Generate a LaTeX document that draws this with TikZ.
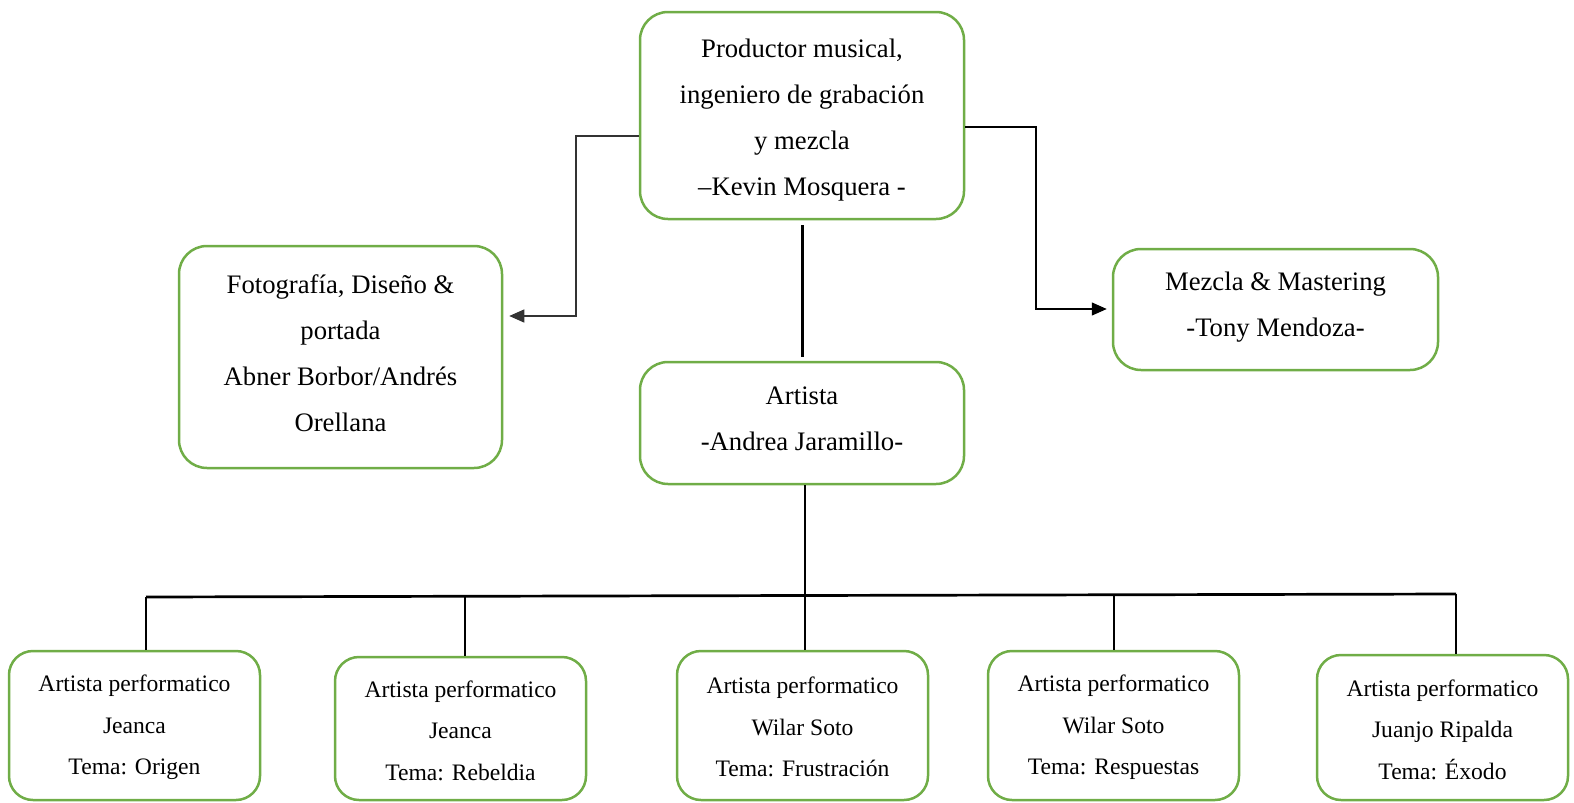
\documentclass[tikz,border=0pt]{standalone}
\usepackage{fontspec}
\setmainfont{Liberation Serif}
\usetikzlibrary{arrows.meta}
\definecolor{verdecaja}{RGB}{112,173,71}
\newcommand{\subir}[1]{\rule[-#1]{0pt}{0pt}}
\newcommand{\bajar}[1]{\rule{0pt}{#1}}
\tikzset{
	caja/.style={draw=verdecaja, line width=2.5pt, rounded corners=28pt, align=center, inner sep=0pt},
	cajagrande/.style={caja, font=\fontsize{26.7}{46}\selectfont},
	cajachica/.style={caja, rounded corners=24pt, minimum width=251pt, font=\fontsize{23.6}{41.5}\selectfont},
	linea/.style={line width=1.3pt},
	flecha/.style={linea, -{Triangle[length=15pt,width=13pt]}}
}

\begin{document}
\begin{tikzpicture}[x=1pt, y=-1pt]
			%%%%% START %%%%%
			\useasboundingbox (0, 0) rectangle (1574, 803);
			
			\node[cajagrande, minimum width=324pt, minimum height=207pt] (prod) at (802, 115.5) {\bajar{27pt}Productor musical,\\ingeniero de grabación\\y mezcla\\–Kevin Mosquera -};
			\node[cajagrande, minimum width=323pt, minimum height=222pt] (foto) at (340.5, 357) {Fotografía, Diseño \&\\portada\\Abner Borbor/Andrés\\Orellana\subir{8pt}};
			\node[cajagrande, minimum width=325pt, minimum height=121pt] (mezcla) at (1275.5, 309.5) {Mezcla \& Mastering\\-Tony Mendoza-\subir{10pt}};
			\node[cajagrande, minimum width=324pt, minimum height=122pt] (artista) at (802, 423) {Artista\\-Andrea Jaramillo-\subir{8pt}};
			
			\node[cajachica, minimum height=149pt] (b1) at (134.5, 725.5) {\bajar{21pt}Artista performatico\\Jeanca\\Tema: Origen};
			\node[cajachica, minimum height=143pt] (b2) at (460.5, 728.5) {\bajar{21pt}Artista performatico\\Jeanca\\Tema: Rebeldia};
			\node[cajachica, minimum height=149pt] (b3) at (802.5, 725.5) {\bajar{20pt}Artista performatico\\Wilar Soto\\Tema: Frustración};
			\node[cajachica, minimum height=149pt] (b4) at (1113.5, 725.5) {\bajar{21pt}Artista performatico\\Wilar Soto\\Tema: Respuestas};
			\node[cajachica, minimum height=145pt] (b5) at (1442.5, 727.5) {\bajar{21pt}Artista performatico\\Juanjo Ripalda\\Tema: Éxodo};
			
			% conectores de arriba
			\draw[flecha, color=black!80] (prod.west |- 0, 136) -| (576, 316) -- ([xshift=6pt]foto.east |- 0, 316);
			\draw[flecha] (prod.east |- 0, 127) -| (1036, 309) -- ([xshift=-5pt]mezcla.west |- 0, 309);
			\draw[line width=3pt] ([yshift=-5pt]prod.south) -- ([yshift=4pt]artista.north);
			
			% barra de abajo
			\coordinate (busIzq) at (146, 597);
			\coordinate (busDer) at (1456, 594);
			\draw[line width=2.7pt] (busIzq) -- (busDer);
			\draw[linea] ([xshift=3pt]artista.south) -- ([xshift=3pt]artista.south |- b3.north);
			\draw[linea] (busIzq) -- (busIzq |- b1.north);
			\draw[linea] (465, 596.3) -- (465, 596 |- b2.north);
			\draw[linea] (1114, 594.8) -- (1114, 594 |- b4.north);
			\draw[linea] (busDer) -- (busDer |- b5.north);
			
			%%%%% END %%%%%
\end{tikzpicture}
\end{document}
